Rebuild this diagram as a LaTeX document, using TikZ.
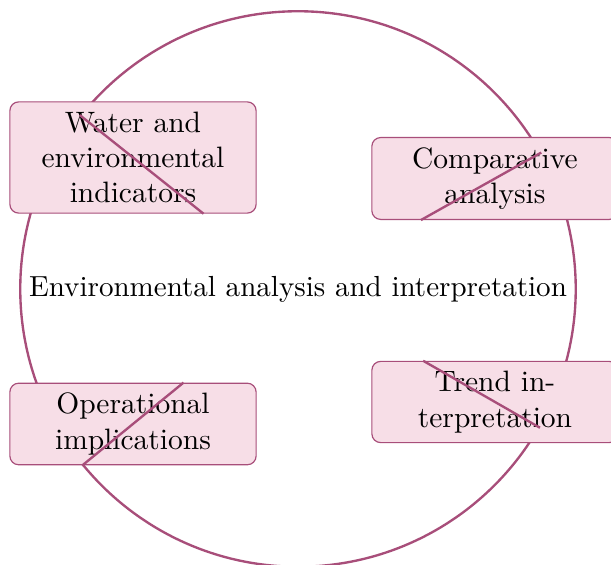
\documentclass[tikz,border=0pt]{standalone}
\usepackage{tikz}
\definecolor{envline}{RGB}{168,78,122}
\definecolor{envfill}{RGB}{247,222,231}
\tikzset{
  hub/.style={circle, draw=envline, thick, inner sep=3pt, font=\fontsize{9.85pt}{12pt}\selectfont},
  topic/.style={draw=envline, fill=envfill, rounded corners=3pt, text width=2.7cm, align=center},
  link/.style={envline, thick}
}
\begin{document}
\begin{tikzpicture}[x=0.339pt, y=-0.339pt]
\useasboundingbox (-298,-289) rectangle (313,276);
\node [hub] (env) at (0,0) {Environmental analysis and interpretation};
\node [topic] (water) at (-165,-131.5) {Water and environmental indicators};
\node [topic] (compare) at (197,-110.5) {Comparative analysis};
\node [topic] (trend) at (197,113) {Trend interpretation};
\node [topic] (ops) at (-165,135) {Operational implications};
\draw [link] (env) -- (water);
\draw [link] (env) -- (compare);
\draw [link] (env) -- (trend);
\draw [link] (env) -- (ops);
\end{tikzpicture}
\end{document}
